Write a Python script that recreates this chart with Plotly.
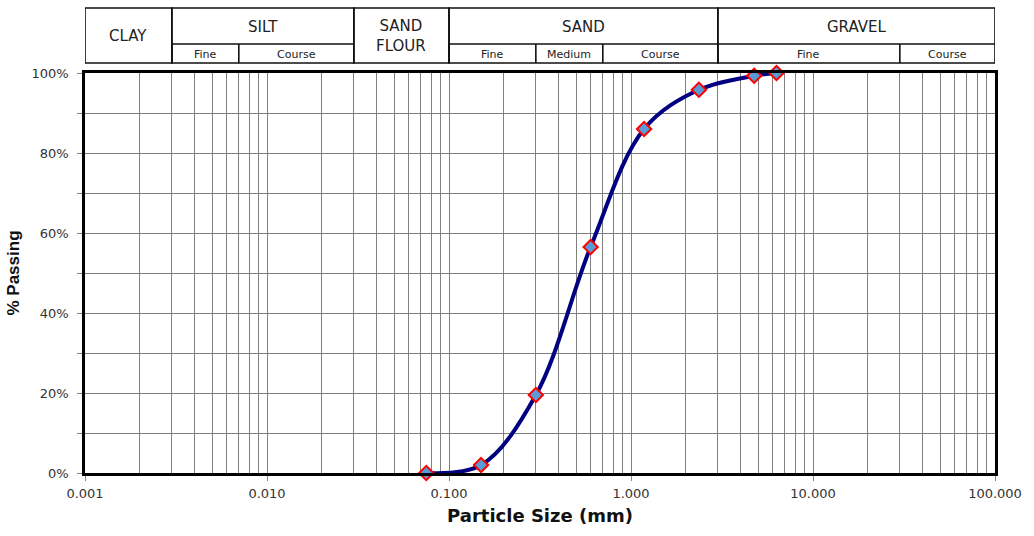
import math
import plotly.graph_objects as go

# ---- data ----
sieve_sizes_mm = [0.075, 0.15, 0.3, 0.6, 1.18, 2.36, 4.75, 6.3]
percent_passing = [0, 2, 19.5, 56.5, 86, 95.8, 99.3, 100]

x_tick_vals = [0.001, 0.01, 0.1, 1, 10, 100]
x_tick_text = ["0.001", "0.010", "0.100", "1.000", "10.000", "100.000"]
y_tick_vals = [0, 10, 20, 30, 40, 50, 60, 70, 80, 90, 100]
y_tick_text = ["0%", "", "20%", "", "40%", "", "60%", "", "80%", "", "100%"]

# soil classification header (upper row)
main_classes = ["CLAY", "SILT", "SAND<br>FLOUR", "SAND", "GRAVEL"]
main_bounds = [(0.001, 0.003), (0.003, 0.03), (0.03, 0.1), (0.1, 3), (3, 100)]
main_full_height = [True, False, True, False, False]
# sub-classes (lower row)
sub_classes = ["Fine", "Course", "Fine", "Medium", "Course", "Fine", "Course"]
sub_bounds = [(0.003, 0.007), (0.007, 0.03), (0.1, 0.3), (0.3, 0.7),
              (0.7, 3), (3, 30), (30, 100)]

WIDE = "'DejaVu Sans', Verdana, sans-serif"
ARIAL = "Arial, 'Liberation Sans', sans-serif"

fig = go.Figure()
fig.add_trace(go.Scatter(
    x=sieve_sizes_mm, y=percent_passing, mode="lines+markers",
    line=dict(color="#000080", width=4, shape="spline", smoothing=1.0),
    marker=dict(symbol="diamond", size=11, color="#5B9BD5",
                line=dict(color="#FF0000", width=2)),
    showlegend=False, cliponaxis=False,
))

# header geometry: pixel offsets above the top of the plot area
H_TOP, H_MID, H_BOT = 65, 29, 10

shapes = []
annotations = []
LINE = dict(color="#111", width=1.6)
for name, (a, b), full in zip(main_classes, main_bounds, main_full_height):
    shapes.append(dict(type="rect", xref="x", yref="paper", ysizemode="pixel", yanchor=1,
                       x0=a, x1=b, y0=H_BOT, y1=H_TOP, line=LINE,
                       fillcolor="rgba(0,0,0,0)", layer="above"))
    if not full:
        shapes.append(dict(type="line", xref="x", yref="paper", ysizemode="pixel", yanchor=1,
                           x0=a, x1=b, y0=H_MID, y1=H_MID, line=LINE))
    xm = (math.log10(a) + math.log10(b)) / 2
    annotations.append(dict(x=xm, y=1, yshift=(37 if full else 46), xref="x", yref="paper",
                            text=name, showarrow=False,
                            font=dict(family=WIDE, size=15, color="#222"),
                            xanchor="center", yanchor="middle"))

for name, (a, b) in zip(sub_classes, sub_bounds):
    shapes.append(dict(type="line", xref="x", yref="paper", ysizemode="pixel", yanchor=1,
                       x0=a, x1=a, y0=H_BOT, y1=H_MID, line=LINE))
    xm = (math.log10(a) + math.log10(b)) / 2
    annotations.append(dict(x=xm, y=1, yshift=19, xref="x", yref="paper", text=name,
                            showarrow=False, font=dict(family=WIDE, size=11, color="#222"),
                            xanchor="center", yanchor="middle"))

fig.update_layout(
    width=1034, height=536,
    margin=dict(l=85, r=31, t=73, b=55),
    paper_bgcolor="white", plot_bgcolor="white",
    font=dict(family=WIDE, color="#222"),
    shapes=shapes, annotations=annotations,
    xaxis=dict(
        type="log", range=[-3, 2],
        tickvals=x_tick_vals, ticktext=x_tick_text,
        ticks="outside", ticklen=5, tickcolor="#888", tickwidth=1,
        tickfont=dict(family=WIDE, size=13, color="#333"),
        ticklabelstandoff=2,
        showgrid=True, gridcolor="#808080", gridwidth=1,
        minor=dict(dtick="D1", showgrid=True, gridcolor="#808080", gridwidth=1, ticks=""),
        showline=True, linecolor="#000", linewidth=2.5, mirror=True,
        zeroline=False,
        title=dict(text="<b>Particle Size (mm)</b>", font=dict(family=WIDE, size=18, color="#111"),
                   standoff=10),
    ),
    yaxis=dict(
        range=[0, 100],
        tickvals=y_tick_vals, ticktext=y_tick_text,
        ticks="outside", ticklen=5, tickcolor="#888", tickwidth=1,
        tickfont=dict(family=WIDE, size=13, color="#333"),
        ticklabelstandoff=6,
        showgrid=True, gridcolor="#808080", gridwidth=1,
        showline=True, linecolor="#000", linewidth=2.5, mirror=True,
        zeroline=False,
        title=dict(text="<b>% Passing</b>", font=dict(family=ARIAL, size=17, color="#111"),
                   standoff=8),
    ),
)

fig.write_html("out.html", post_script="document.body.style.margin='0';",
               config={"displayModeBar": False})
